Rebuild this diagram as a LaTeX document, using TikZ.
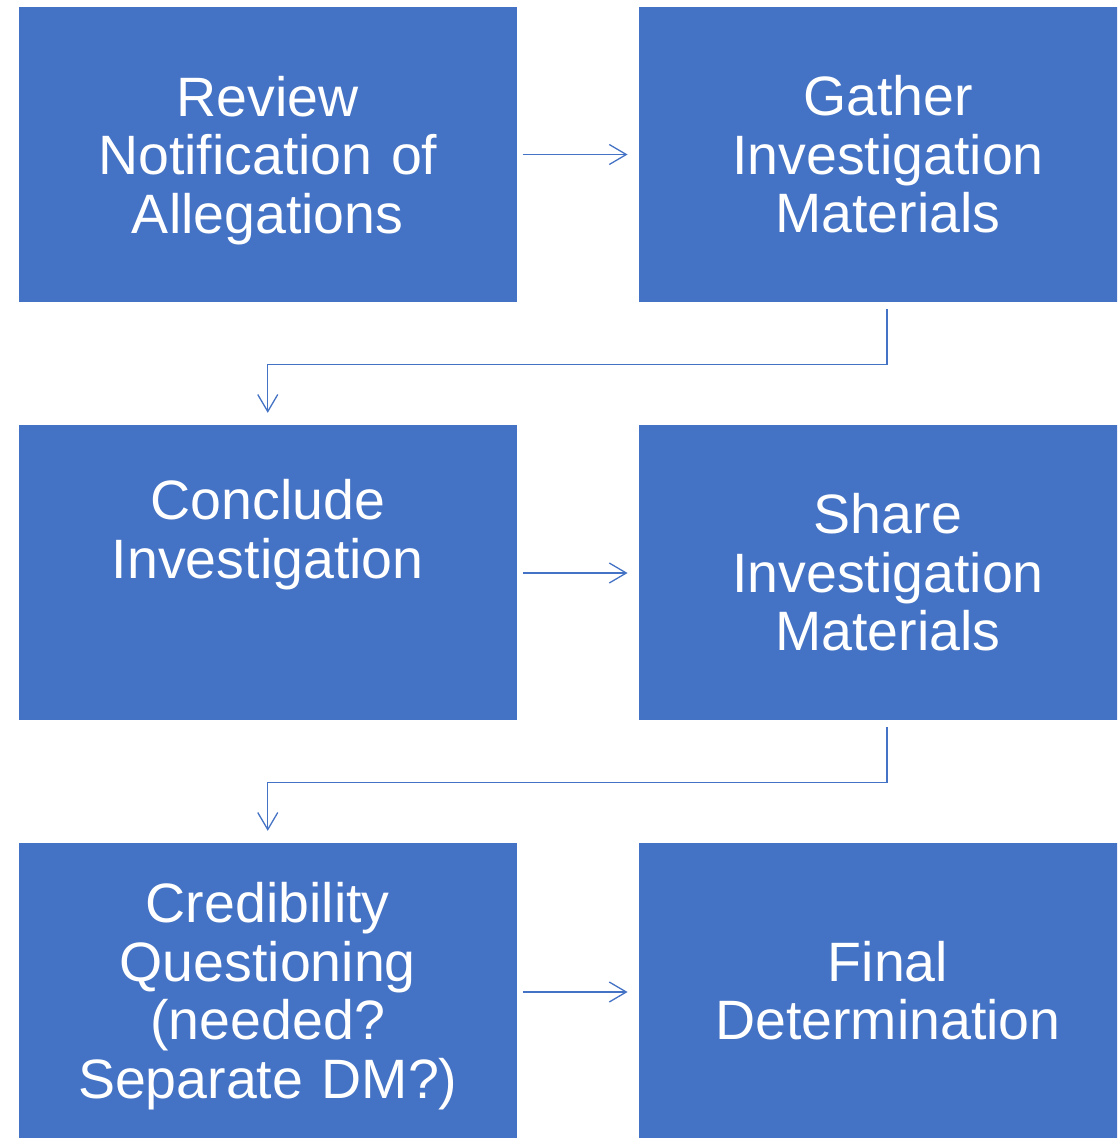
\documentclass[tikz,border=0pt]{standalone}
\usepackage{fontspec}
\setmainfont{Liberation Sans}
\usetikzlibrary{arrows.meta}
\definecolor{boxblue}{HTML}{4472C4}
\newcommand{\nodepth}[1]{\raisebox{0pt}[\height][0pt]{#1}}
\tikzset{
  box/.style={fill=boxblue, draw=none, minimum width=498.5pt, minimum height=295pt,
    inner sep=0pt, text=white, align=center, text width=480pt,
    font=\fontsize{55.5pt}{58.5pt}\selectfont},
  txt/.style={text=white, align=center, text width=480pt, inner sep=0pt,
    font=\fontsize{55.5pt}{58.5pt}\selectfont},
  arr/.style={draw=boxblue, line width=1.3pt,
    -{Straight Barb[length=17pt,width=20pt,line width=1.3pt]}}
}
\begin{document}
\begin{tikzpicture}
\clip (0pt,0pt) rectangle (1117pt,-1141pt);
\fill[white] (0pt,0pt) rectangle (1117pt,-1141pt);
% row 1
\node[box] (A) at (267.75pt,-154.5pt) {Review\\Notification of\\\nodepth{Allegations}};
\node[box] (B) at (888pt,-154.5pt) {Gather\\Investigation\\Materials};
% row 2
\node[box] (C) at (267.75pt,-572.5pt) {};
\node[txt] (Ct) at ([yshift=38pt]C.center) {Conclude\\Investigation};
\node[box] (D) at (888pt,-572.5pt) {Share\\Investigation\\Materials};
% row 3
\node[box] (E) at (267.75pt,-990.5pt) {Credibility\\Questioning\\(needed?\\\nodepth{Separate DM?)}};
\node[box] (F) at (888pt,-990.5pt) {Final\\Determination};
% connectors
\draw[arr] ([xshift=6pt]A.east) -- ([xshift=-11pt]B.west);
\draw[arr] ([xshift=6pt,yshift=-0.5pt]C.east) -- ([xshift=-11pt,yshift=-0.5pt]D.west);
\draw[arr] ([xshift=6pt,yshift=-1.5pt]E.east) -- ([xshift=-11pt,yshift=-1.5pt]F.west);
\draw[arr] ([xshift=-1pt,yshift=-7pt]B.south) -- ++(0,-55pt) -| ([yshift=12pt]C.north);
\draw[arr] ([xshift=-1pt,yshift=-7pt]D.south) -- ++(0,-55pt) -| ([yshift=12pt]E.north);
\end{tikzpicture}
\end{document}
